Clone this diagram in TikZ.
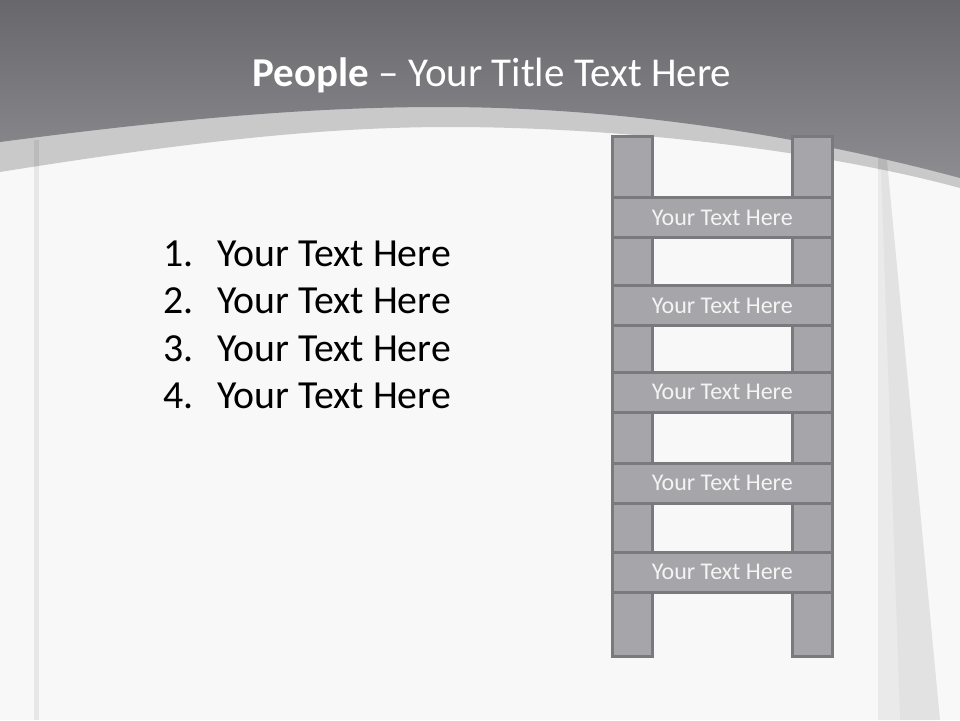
\documentclass[tikz,border=0pt]{standalone}
\usepackage{fontspec}
\setmainfont{Carlito}
\definecolor{bgmain}{HTML}{F8F8F8}
\definecolor{bandlight}{HTML}{C9C9CA}
\definecolor{darktop}{HTML}{67676C}
\definecolor{darkbot}{HTML}{8C8C91}
\definecolor{ladfill}{HTML}{A6A6AA}
\definecolor{ladline}{HTML}{7A7A7E}
\definecolor{ladtext}{HTML}{F4F4F4}
\tikzset{
  rail/.style={draw=ladline, fill=ladfill, line width=3pt, inner sep=0pt, minimum width=39.5pt, minimum height=520pt},
  rung/.style={draw=ladline, fill=ladfill, line width=3pt, inner sep=0pt, minimum width=219.5pt, minimum height=40pt,
    text=ladtext, font=\fontsize{24}{28}\selectfont},
  listnum/.style={anchor=base west, inner sep=0pt, font=\fontsize{39.8}{46}\selectfont, text=black},
  titletext/.style={anchor=base, inner sep=0pt, text=white, font=\fontsize{41}{48}\selectfont}
}
\begin{document}
\begin{tikzpicture}[x=1pt,y=-1pt]
\useasboundingbox (0,0) rectangle (960,720);
% background
\fill[bgmain] (0,0) rectangle (960,720);
% light band
\fill[bandlight] (0,0) -- (960,0) -- (960,188)
  .. controls (820,150) and (620,127) .. (450,127)
  .. controls (330,127) and (200,140) .. (0,172) -- cycle;
% left vertical strip
\fill[black,opacity=0.065] (33.5,140) rectangle (38.5,720);
% right wedge
\fill[black,opacity=0.085] (878,150) -- (886,150) -- (940,720) -- (878,720) -- cycle;
\fill[white,opacity=0.3] (878,170) -- (881,170) -- (900,720) -- (878,720) -- cycle;
% dark header
\shade[top color=darktop, bottom color=darkbot] (0,0) -- (960,0) -- (960,178)
  .. controls (800,135) and (620,107) .. (440,107)
  .. controls (320,107) and (190,117) .. (0,142) -- cycle;
% title
\node[titletext] (title) at (492,86) {\textbf{People} – Your Title Text Here};
% list
\node[listnum] (n1) at (163,266) {1.};
\node[listnum] (t1) at (217,266) {Your Text Here};
\node[listnum] (n2) at (163,313.5) {2.};
\node[listnum] (t2) at (217,313.5) {Your Text Here};
\node[listnum] (n3) at (163,361) {3.};
\node[listnum] (t3) at (217,361) {Your Text Here};
\node[listnum] (n4) at (163,408.5) {4.};
\node[listnum] (t4) at (217,408.5) {Your Text Here};
% ladder
\node[rail] (lrail) at (632.25,396) {};
\node[rail] (rrail) at (812.25,396) {};
\node[rung] (r1) at (722.25,217.5) {Your Text Here};
\node[rung] (r2) at (722.25,305.5) {Your Text Here};
\node[rung] (r3) at (722.25,392.25) {Your Text Here};
\node[rung] (r4) at (722.25,483.25) {Your Text Here};
\node[rung] (r5) at (722.25,572) {Your Text Here};
\end{tikzpicture}
\end{document}
